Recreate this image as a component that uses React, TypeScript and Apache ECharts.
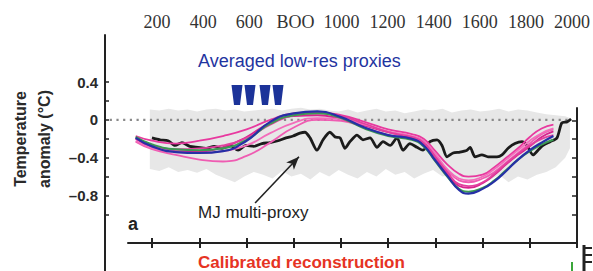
import React, { useEffect, useRef } from "react";
import * as echarts from "echarts";

// ---- data ----
const years = [130, 200, 300, 400, 500, 600, 700, 800, 900, 1000, 1100, 1200, 1300, 1350, 1400, 1450, 1500, 1540, 1600, 1650, 1700, 1750, 1800, 1850, 1900];
const blueValues = [-0.19, -0.28, -0.34, -0.35, -0.33, -0.22, -0.02, 0.07, 0.09, 0.03, -0.08, -0.16, -0.2, -0.27, -0.43, -0.59, -0.74, -0.78, -0.73, -0.65, -0.54, -0.42, -0.32, -0.24, -0.17];
const greenValues = [-0.18, -0.26, -0.31, -0.32, -0.3, -0.21, -0.04, 0.05, 0.07, 0.02, -0.09, -0.17, -0.21, -0.28, -0.44, -0.6, -0.73, -0.76, -0.72, -0.64, -0.53, -0.42, -0.33, -0.26, -0.21];
const pink1 = [-0.17, -0.22, -0.25, -0.22, -0.17, -0.1, 0.0, 0.07, 0.08, 0.05, -0.02, -0.1, -0.15, -0.2, -0.33, -0.47, -0.57, -0.6, -0.58, -0.5, -0.4, -0.3, -0.18, -0.09, -0.05];
const pink2 = [-0.23, -0.31, -0.37, -0.42, -0.44, -0.38, -0.24, -0.08, 0.0, -0.01, -0.08, -0.16, -0.2, -0.25, -0.38, -0.53, -0.64, -0.66, -0.62, -0.55, -0.45, -0.35, -0.25, -0.15, -0.1];
const pink3 = [-0.2, -0.29, -0.33, -0.33, -0.29, -0.18, -0.03, 0.04, 0.05, 0.01, -0.06, -0.13, -0.19, -0.25, -0.4, -0.57, -0.7, -0.72, -0.67, -0.58, -0.47, -0.37, -0.28, -0.18, -0.12];
const pink4 = [-0.22, -0.3, -0.34, -0.35, -0.33, -0.27, -0.14, -0.03, 0.02, 0.01, -0.05, -0.12, -0.17, -0.22, -0.36, -0.52, -0.62, -0.64, -0.6, -0.52, -0.42, -0.32, -0.22, -0.14, -0.09];
const pink5 = [-0.19, -0.27, -0.31, -0.3, -0.27, -0.19, -0.05, 0.05, 0.07, 0.04, -0.04, -0.13, -0.18, -0.24, -0.39, -0.55, -0.68, -0.7, -0.66, -0.57, -0.46, -0.36, -0.27, -0.2, -0.16];

const mjYears = [199, 233, 267, 297, 326, 360, 394, 428, 462, 496, 530, 564, 597, 631, 665, 699, 733, 767, 797, 826, 847, 869, 898, 924, 953, 975, 996, 1017, 1038, 1068, 1093, 1123, 1153, 1178, 1208, 1237, 1263, 1292, 1322, 1347, 1377, 1407, 1428, 1449, 1475, 1504, 1534, 1547, 1568, 1597, 1623, 1661, 1682, 1708, 1737, 1767, 1788, 1814, 1835, 1856, 1886, 1915, 1936, 1958, 1975];
const mjValues = [-0.19, -0.21, -0.22, -0.27, -0.24, -0.28, -0.29, -0.3, -0.28, -0.3, -0.27, -0.32, -0.27, -0.28, -0.25, -0.24, -0.22, -0.19, -0.17, -0.14, -0.13, -0.19, -0.32, -0.21, -0.13, -0.18, -0.19, -0.3, -0.23, -0.16, -0.21, -0.19, -0.29, -0.23, -0.27, -0.19, -0.32, -0.25, -0.29, -0.32, -0.23, -0.21, -0.27, -0.39, -0.35, -0.34, -0.32, -0.29, -0.39, -0.37, -0.39, -0.39, -0.37, -0.3, -0.25, -0.23, -0.27, -0.37, -0.32, -0.27, -0.23, -0.19, -0.03, -0.02, 0.01];

const bandYears = [190, 230, 270, 310, 350, 390, 430, 470, 510, 550, 590, 630, 670, 710, 750, 790, 830, 870, 910, 950, 990, 1030, 1070, 1110, 1150, 1190, 1230, 1270, 1310, 1350, 1390, 1430, 1470, 1510, 1550, 1590, 1630, 1670, 1710, 1750, 1790, 1830, 1870, 1910, 1950, 1970];
const bandUpper = [0.11, 0.1, 0.12, 0.1, 0.11, 0.09, 0.11, 0.12, 0.1, 0.11, 0.09, 0.1, 0.11, 0.12, 0.1, 0.12, 0.13, 0.11, 0.12, 0.1, 0.09, 0.11, 0.08, 0.1, 0.12, 0.09, 0.1, 0.07, 0.09, 0.11, 0.1, 0.12, 0.08, 0.1, 0.11, 0.09, 0.1, 0.12, 0.09, 0.11, 0.1, 0.08, 0.06, 0.05, 0.04, 0.02];
const bandLower = [-0.52, -0.54, -0.5, -0.55, -0.53, -0.56, -0.52, -0.58, -0.62, -0.66, -0.6, -0.55, -0.58, -0.62, -0.54, -0.6, -0.57, -0.63, -0.55, -0.6, -0.53, -0.58, -0.62, -0.55, -0.6, -0.52, -0.58, -0.55, -0.62, -0.57, -0.53, -0.6, -0.58, -0.62, -0.66, -0.6, -0.64, -0.58, -0.66, -0.6, -0.63, -0.58, -0.55, -0.5, -0.4, -0.3];

const topTickLabels = ["200", "400", "600", "BOO", "1000", "1200", "1400", "1600", "1800", "2000"];
const topTickValues = [200, 400, 600, 800, 1000, 1200, 1400, 1600, 1800, 2000];
const yLabelValues = [0.4, 0, -0.4, -0.8];
const yTickValues = [0.4, 0.2, 0, -0.2, -0.4, -0.6, -0.8, -1.0];
const rightTickValues = [0, -0.2, -0.4, -0.6, -0.8, -1.0];
const zeroLineYears = [20, 1970];

const pinkColors = ["#e8399f", "#ef5cb2", "#d8238e", "#f36dbb", "#e2409f"];

function pairs(xs: number[], ys: number[]) {
  return xs.map((x, i) => [x, ys[i]]);
}

function wedge(cx: number) {
  return {
    type: "polygon",
    shape: { points: [[cx - 5.5, 85], [cx + 5.5, 85], [cx + 3, 105], [cx - 3, 105]] },
    style: { fill: "#1c3399" },
  };
}

export default function App() {
  const ref = useRef<HTMLDivElement>(null);
  useEffect(() => {
    if (!ref.current) return;
    const chart = echarts.init(ref.current, undefined, { renderer: "svg" });
    const gridGeom = { left: 105, width: 472 };
    const hiddenX = (gi: number) => ({ type: "value", gridIndex: gi, min: 0, max: 2000, show: false });
    const pinkSeries = [pink1, pink2, pink3, pink4, pink5].map((p, i) => ({
      type: "line",
      xAxisIndex: 0,
      yAxisIndex: 0,
      data: pairs(years, p),
      smooth: 0.5,
      symbol: "none",
      lineStyle: { color: pinkColors[i], width: 1.8 },
      z: 3,
    }));
    chart.setOption({
      animation: false,
      backgroundColor: "#ffffff",
      grid: [
        { ...gridGeom, top: 35, height: 236 },
        { ...gridGeom, top: 35, height: 208 },
        { ...gridGeom, top: 108, height: 135 },
        { left: 111, width: 468, top: 34, height: 5 },
        { ...gridGeom, top: 238, height: 10 },
      ],
      xAxis: [
        hiddenX(0),
        {
          type: "value", gridIndex: 1, min: 0, max: 2000, position: "bottom",
          axisLine: { show: true, onZero: false, lineStyle: { color: "#222", width: 2 } },
          axisTick: { show: false },
          axisLabel: { show: false }, splitLine: { show: false },
        },
        hiddenX(2),
        {
          type: "value", gridIndex: 3, min: 0, max: 2000, position: "top",
          axisLine: { show: false, onZero: false }, axisTick: { show: false }, splitLine: { show: false },
          axisLabel: {
            show: true, customValues: topTickValues, margin: 3,
            fontFamily: "Liberation Serif", fontSize: 18, color: "#333",
            formatter: (v: number) => topTickLabels[topTickValues.indexOf(v)] ?? "",
          },
        },
        {
          type: "value", gridIndex: 4, min: 0, max: 2000, interval: 200, position: "bottom",
          axisLine: { show: false, onZero: false }, axisTick: { show: false }, axisLabel: { show: false },
          splitLine: { show: true, lineStyle: { color: "#222", width: 2 } },
        },
      ],
      yAxis: [
        {
          type: "value", gridIndex: 0, min: -1.6, max: 0.9, position: "left",
          axisLine: { show: true, onZero: false, lineStyle: { color: "#222", width: 2 } },
          axisTick: { show: true, inside: true, length: 4, customValues: yTickValues, lineStyle: { color: "#222", width: 1.5 } },
          axisLabel: {
            show: true, customValues: yLabelValues, margin: 7,
            fontFamily: "Liberation Sans", fontWeight: "bold", fontSize: 15, color: "#2a2a2a",
            formatter: (v: number) => (v < 0 ? "\u2013" + Math.abs(v).toFixed(1) : v === 0 ? "0" : v.toFixed(1)),
          },
          splitLine: { show: false },
        },
        {
          type: "value", gridIndex: 1, min: -1.3, max: 0.9, position: "left",
          axisLine: { show: false, onZero: false }, axisTick: { show: false }, axisLabel: { show: false }, splitLine: { show: false },
          name: "Temperature\nanomaly (\u00B0C)", nameLocation: "middle", nameRotate: 90, nameGap: 72,
          nameTextStyle: { fontFamily: "Liberation Sans", fontWeight: "bold", fontSize: 16, lineHeight: 24, color: "#2a2a2a" },
        },
        {
          type: "value", gridIndex: 2, min: -1.3, max: 0.13, position: "right",
          axisLine: { show: true, onZero: false, lineStyle: { color: "#222", width: 2 } },
          axisTick: { show: true, inside: true, length: 5, customValues: rightTickValues, lineStyle: { color: "#222", width: 1.5 } },
          axisLabel: { show: false }, splitLine: { show: false },
        },
        { type: "value", gridIndex: 3, show: false },
        { type: "value", gridIndex: 4, min: 0, max: 1, show: false },
      ],
      series: [
        {
          type: "custom", name: "band", xAxisIndex: 0, yAxisIndex: 0, silent: true, z: 1,
          data: [[0]],
          renderItem: (_params: any, api: any) => {
            const top = bandYears.map((x, i) => api.coord([x, bandUpper[i]]));
            const bottom = bandYears.map((x, i) => api.coord([x, bandLower[i]])).reverse();
            return {
              type: "polygon",
              shape: { points: top.concat(bottom) },
              style: { fill: "#e7e7e7" },
            };
          },
        },
        {
          type: "line", name: "zero", data: zeroLineYears.map((x) => [x, 0]), symbol: "none", silent: true,
          lineStyle: { color: "#8a8a8a", width: 2.2, type: [2.2, 4.5] }, z: 2,
        },
        {
          type: "line", name: "MJ multi-proxy", data: pairs(mjYears, mjValues), symbol: "none", smooth: 0.25,
          lineStyle: { color: "#1b1b1b", width: 2.8 }, z: 2,
          markLine: {
            silent: true, symbol: ["none", "arrow"], symbolSize: [8, 13],
            lineStyle: { color: "#222", width: 1.6, type: "solid" }, label: { show: false },
            data: [[{ coord: [636, -0.88] }, { coord: [822, -0.39] }]],
          },
        },
        ...pinkSeries,
        {
          type: "line", name: "green", data: pairs(years, greenValues), smooth: 0.5, symbol: "none",
          lineStyle: { color: "#3b9a52", width: 2 }, z: 4,
        },
        {
          type: "line", name: "blue", data: pairs(years, blueValues), smooth: 0.5, symbol: "none",
          lineStyle: { color: "#2630a6", width: 2.2 }, z: 5,
        },
      ],
      graphic: [
        {
          type: "text", left: 198, top: 52,
          style: { text: "Averaged low-res proxies", fill: "#1f34a0", font: "18px 'Liberation Sans', Arial, sans-serif" },
        },
        wedge(237), wedge(250), wedge(265), wedge(278),
        {
          type: "text", left: 198, top: 204,
          style: { text: "MJ multi-proxy", fill: "#1e1e1e", font: "17px 'Liberation Sans', Arial, sans-serif" },
        },
        {
          type: "text", left: 128, top: 215,
          style: { text: "a", fill: "#222", font: "bold 18px 'Liberation Sans', Arial, sans-serif" },
        },
        {
          type: "text", left: 198, top: 254,
          style: { text: "Calibrated reconstruction", fill: "#e63323", font: "bold 17px 'Liberation Sans', Arial, sans-serif" },
        },
        { type: "line", shape: { x1: 584, y1: 245, x2: 584, y2: 271 }, style: { stroke: "#222", lineWidth: 3 } },
        { type: "line", shape: { x1: 584, y1: 248, x2: 592, y2: 248 }, style: { stroke: "#222", lineWidth: 2 } },
        { type: "line", shape: { x1: 584, y1: 255, x2: 592, y2: 255 }, style: { stroke: "#222", lineWidth: 2 } },
        { type: "line", shape: { x1: 584, y1: 262, x2: 592, y2: 262 }, style: { stroke: "#222", lineWidth: 2 } },
        { type: "line", shape: { x1: 572, y1: 262, x2: 572, y2: 271 }, style: { stroke: "#3aa63a", lineWidth: 2 } },
      ],
    });
    return () => chart.dispose();
  }, []);
  return <div ref={ref} style={{ position: "absolute", left: 0, top: 0, width: 593, height: 271, background: "#fff" }} />;
}
